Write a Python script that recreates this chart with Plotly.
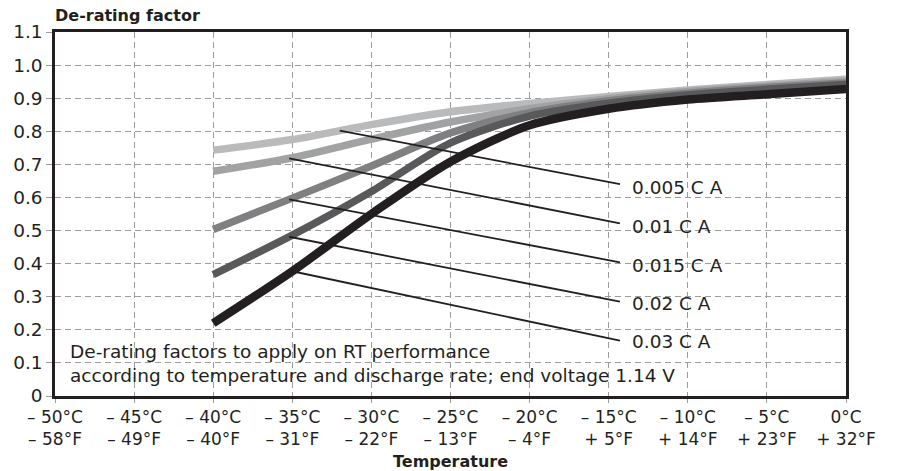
import numpy as np
import plotly.graph_objects as go

# ---- data ----
temps_c = [-40, -35, -30, -25, -20, -15, -10, -5, 0]
series_names = ["0.005 C A", "0.01 C A", "0.015 C A", "0.02 C A", "0.03 C A"]
f_0005 = [0.743, 0.775, 0.820, 0.859, 0.884, 0.905, 0.925, 0.941, 0.957]
f_001 = [0.679, 0.720, 0.776, 0.828, 0.868, 0.898, 0.920, 0.936, 0.951]
f_0015 = [0.503, 0.598, 0.695, 0.795, 0.856, 0.892, 0.915, 0.932, 0.946]
f_002 = [0.367, 0.486, 0.618, 0.765, 0.846, 0.885, 0.910, 0.927, 0.941]
f_003 = [0.220, 0.377, 0.550, 0.708, 0.818, 0.868, 0.896, 0.912, 0.928]
series_values = [f_0005, f_001, f_0015, f_002, f_003]

x_tickvals = [-50, -45, -40, -35, -30, -25, -20, -15, -10, -5, 0]
x_ticktext = ["– 50°C<br>– 58°F", "– 45°C<br>– 49°F", "– 40°C<br>– 40°F",
              "– 35°C<br>– 31°F", "– 30°C<br>– 22°F", "– 25°C<br>– 13°F",
              "– 20°C<br>– 4°F", "– 15°C<br>+ 5°F", "– 10°C<br>+ 14°F",
              "– 5°C<br>+ 23°F", "0°C<br>+ 32°F"]
y_tickvals = [0, 0.1, 0.2, 0.3, 0.4, 0.5, 0.6, 0.7, 0.8, 0.9, 1.0, 1.1]
y_ticktext = ["0", "0.1", "0.2", "0.3", "0.4", "0.5", "0.6", "0.7", "0.8",
              "0.9", "1.0", "1.1"]

# leader-line anchors (temperature on curve) and label positions
leader_start_t = [-32.0, -35.2, -35.2, -35.2, -35.0]
leader_end = [(-14.29, 0.640), (-14.29, 0.522), (-14.29, 0.404),
              (-14.29, 0.285), (-14.29, 0.167)]
label_pos = [(-13.65, 0.630), (-13.65, 0.511), (-13.65, 0.394),
             (-13.65, 0.280), (-13.65, 0.164)]

note_lines = ["De-rating factors to apply on RT performance",
              "according to temperature and discharge rate; end voltage 1.14 V"]

# ---- style ----
colors = ["#b9babc", "#a1a2a4", "#808083", "#59595b", "#231f20"]
widths = [7.5, 7.5, 7.5, 7.5, 8.5]
FONT = "DejaVu Sans"
INK = "#231f20"
TXT = dict(family=FONT, size=18.5, color=INK)

fig = go.Figure()
for name, vals, c, w in zip(series_names, series_values, colors, widths):
    fig.add_trace(go.Scatter(x=temps_c, y=vals, mode="lines", name=name,
                             line=dict(color=c, width=w, shape="spline",
                                       smoothing=0.8),
                             hoverinfo="skip", showlegend=False))

# leader lines
for t0, vals, (xe, ye) in zip(leader_start_t, series_values, leader_end):
    y0 = float(np.interp(t0, temps_c, vals))
    fig.add_trace(go.Scatter(x=[t0, xe], y=[y0, ye], mode="lines",
                             line=dict(color=INK, width=1.8),
                             hoverinfo="skip", showlegend=False))

annotations = []
for name, (xl, yl) in zip(series_names, label_pos):
    annotations.append(dict(x=xl, y=yl, xref="x", yref="y", text=name,
                            showarrow=False, xanchor="left", yanchor="middle",
                            font=TXT))
annotations.append(dict(x=-49.18, y=0.133, xref="x", yref="y",
                        text=note_lines[0], showarrow=False, xanchor="left",
                        yanchor="middle", font=TXT))
annotations.append(dict(x=-49.18, y=0.063, xref="x", yref="y",
                        text=note_lines[1], showarrow=False, xanchor="left",
                        yanchor="middle", font=TXT))
annotations.append(dict(x=-0.003, y=1.044, xref="paper", yref="paper",
                        text="De-rating factor", showarrow=False,
                        xanchor="left", yanchor="middle",
                        font=dict(family=FONT, size=16, color=INK,
                                  weight="bold")))
annotations.append(dict(x=0.5, y=-0.1786, xref="paper", yref="paper",
                        text="Temperature", showarrow=False,
                        xanchor="center", yanchor="middle",
                        font=dict(family=FONT, size=16, color=INK,
                                  weight="bold")))

fig.update_layout(
    width=901, height=471,
    margin=dict(l=55, r=55, t=32, b=75, autoexpand=False),
    plot_bgcolor="white", paper_bgcolor="white",
    annotations=annotations,
    font=dict(family=FONT, size=18.5, color=INK),
)
fig.update_xaxes(range=[-50, 0], tickvals=x_tickvals, ticktext=x_ticktext,
                 automargin=False,
                 showgrid=True, gridcolor="#9c9c9c", gridwidth=1,
                 griddash="6px,4px", zeroline=False,
                 showline=True, linecolor=INK, linewidth=2.5, mirror=True,
                 ticks="outside", ticklen=4, tickcolor="#9c9c9c",
                 tickfont=dict(family=FONT, size=17, color=INK))
fig.update_yaxes(range=[0, 1.1], tickvals=y_tickvals, ticktext=y_ticktext,
                 automargin=False,
                 showgrid=True, gridcolor="#9c9c9c", gridwidth=1,
                 griddash="6px,4px", zeroline=False,
                 showline=True, linecolor=INK, linewidth=2.5, mirror=True,
                 ticks="outside", ticklen=6, tickcolor="#9c9c9c",
                 tickfont=dict(family=FONT, size=18.5, color=INK))

fig.write_html(
    "out.html",
    config={"displayModeBar": False},
    post_script="document.body.style.margin='0';document.body.style.overflow='hidden';",
)
